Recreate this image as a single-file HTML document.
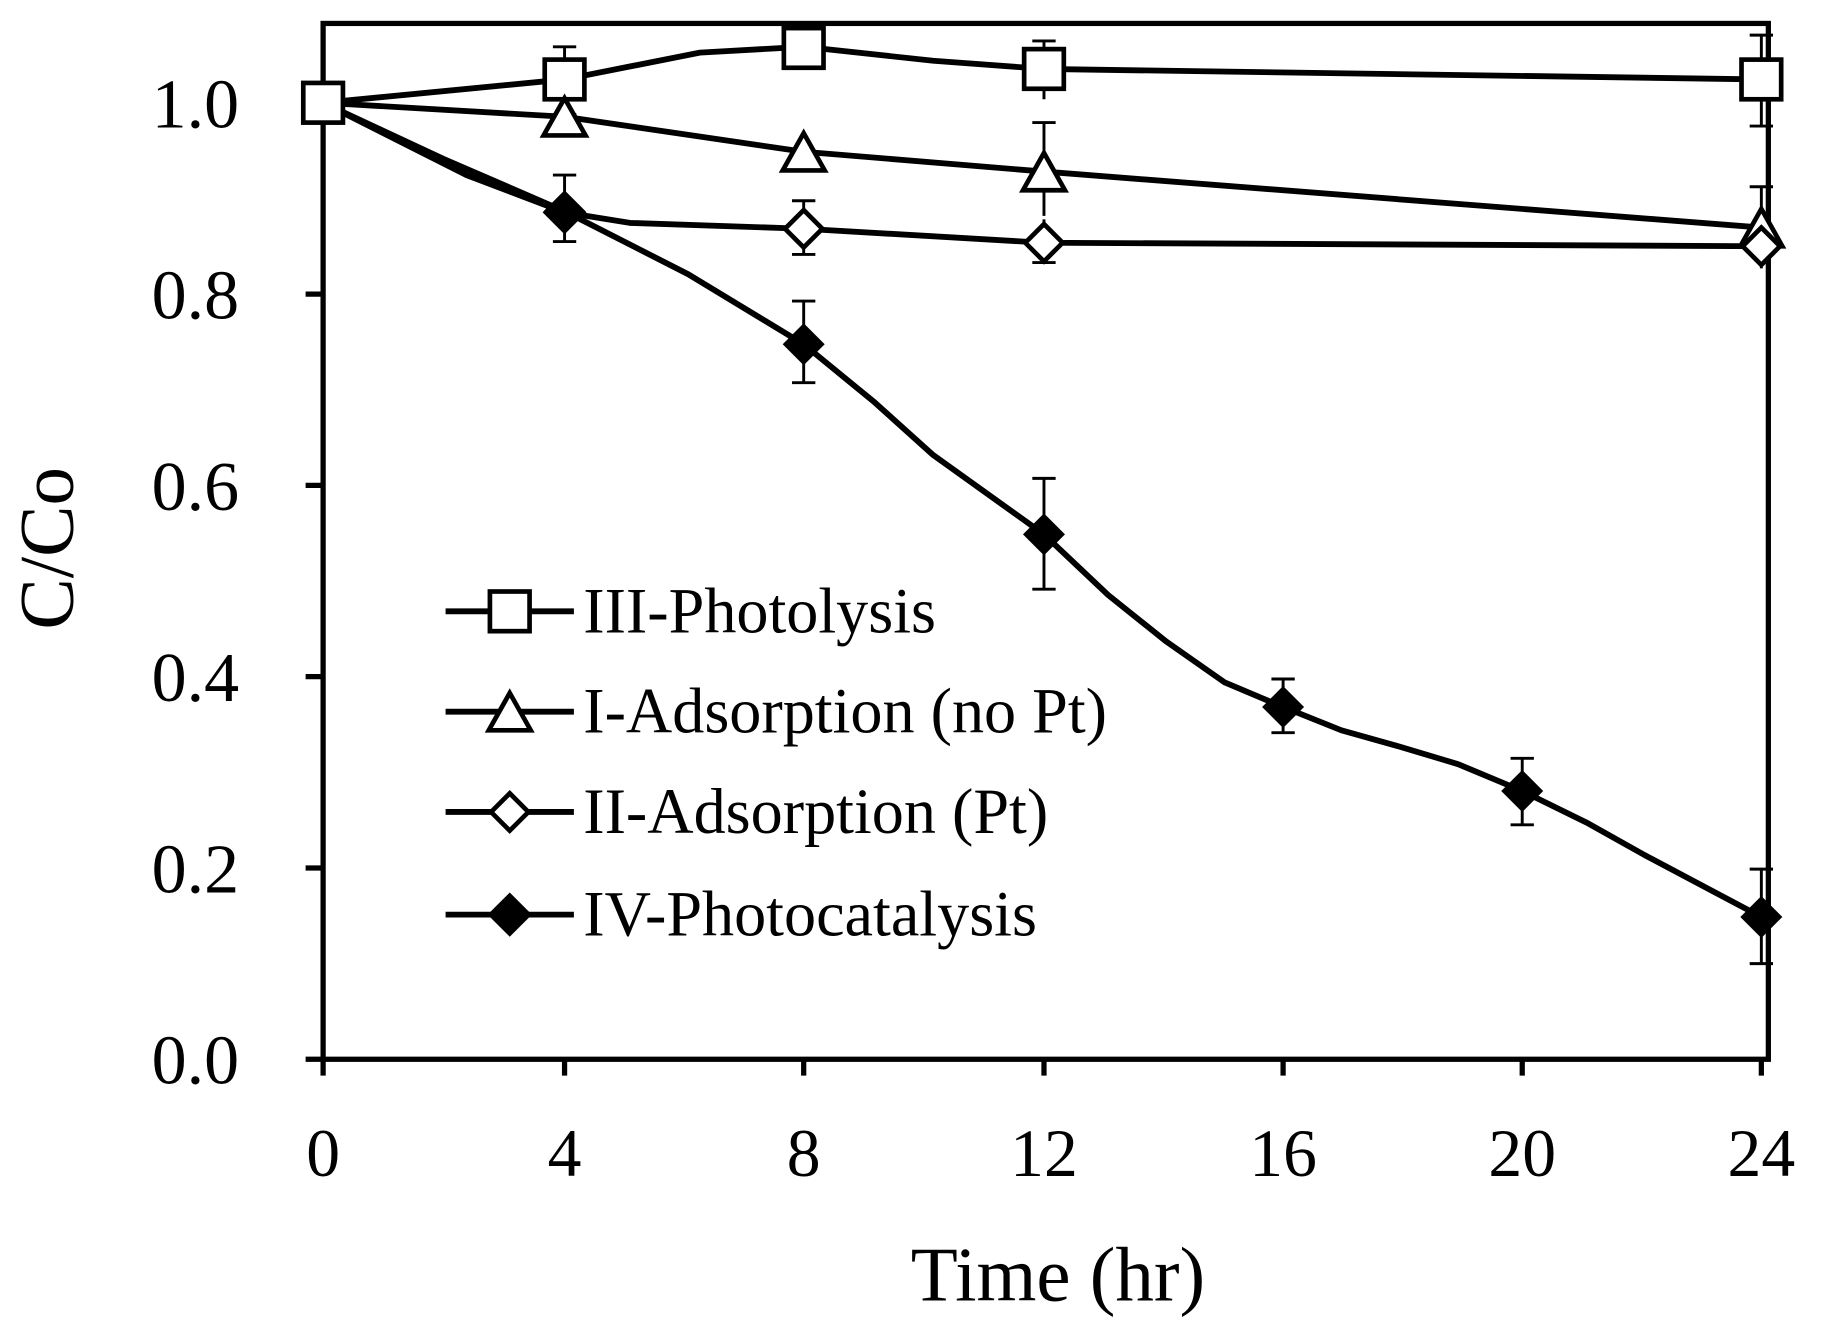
<!DOCTYPE html>
<html><head><style>html,body{margin:0;padding:0;background:#fff}svg{display:block}</style></head><body>
<svg width="1829" height="1344" viewBox="0 0 1568 1152" xmlns="http://www.w3.org/2000/svg" font-family="Liberation Serif, serif">
<rect width="1568" height="1152" fill="#fff"/>
<g stroke="#000" stroke-width="4.5" fill="none">
<rect x="277" y="20" width="1239" height="888"/>
<path d="M262 908H277M262 744H277M262 580H277M262 416H277M262 252H277M262 88H277"/>
<path d="M277 908V922M484 908V922M689 908V922M895 908V922M1100 908V922M1305 908V922M1510 908V922"/>
</g>
<g font-size="60" text-anchor="end" fill="#000">
<text x="205" y="929">0.0</text><text x="205" y="765">0.2</text><text x="205" y="601">0.4</text>
<text x="205" y="437">0.6</text><text x="205" y="273">0.8</text><text x="205" y="109">1.0</text>
</g>
<g font-size="58" text-anchor="middle" fill="#000">
<text x="277" y="1008">0</text><text x="484" y="1008">4</text><text x="689" y="1008">8</text>
<text x="895" y="1008">12</text><text x="1100" y="1008">16</text><text x="1305" y="1008">20</text><text x="1510" y="1008">24</text>
</g>
<text x="907" y="1115" font-size="66" text-anchor="middle">Time (hr)</text>
<text transform="translate(62,470) rotate(-90)" font-size="66" text-anchor="middle">C/Co</text>
<g stroke="#000" stroke-width="2.5" fill="none">
<path d="M484 40V98M474 40H494M474 98H494"/>
<path d="M895 35V85M885 35H905"/>
<path d="M1510 30V108M1500 30H1520M1500 108H1520"/>
<path d="M895 105V185M885 105H905"/>
<path d="M1510 160V230M1500 160H1520"/>
<path d="M484 150V207M474 150H494M474 207H494"/>
<path d="M689 172V218M679 172H699M679 218H699"/>
<path d="M895 188V225M885 225H905"/>
<path d="M689 258V328M679 258H699M679 328H699"/>
<path d="M895 410V505M885 410H905M885 505H905"/>
<path d="M1100 582V628M1090 582H1110M1090 628H1110"/>
<path d="M1305 650V707M1295 650H1315M1295 707H1315"/>
<path d="M1510 745V826M1500 745H1520M1500 826H1520"/>
</g>
<g stroke="#000" stroke-width="5" fill="none" stroke-linejoin="round">
<polyline points="277,88 484,68 600,45 689,40 800,52 895,59 1510,68"/>
<polyline points="277,88 484,100 689,130 895,147 1510,195"/>
<polyline points="277,88 400,150 484,182 540,191 689,196 895,208 1510,211"/>
<polyline points="277,88 380,136 484,181 590,235 689,295 750,345 800,390 895,458 950,510 1000,550 1050,585 1100,606 1150,626 1200,640 1250,655 1305,678 1360,705 1410,733 1510,786"/>
<path d="M382 524H492M382 610H492M382 696H492M382 784H492"/>
</g>
<g stroke="#000" stroke-width="4" fill="#fff">
<rect x="467" y="51" width="34" height="34"/><rect x="672" y="24" width="34" height="34"/>
<rect x="878" y="42" width="34" height="34"/><rect x="1493" y="51" width="34" height="34"/>
<rect x="420" y="507" width="34" height="34"/>
<path d="M484 84L502 116H466Z"/><path d="M689 114L707 146H671Z"/><path d="M895 131L913 163H877Z"/><path d="M1510 179L1528 211H1492Z"/>
<path d="M437 594L455 626H419Z"/>
<path d="M484 166L500 182L484 198L468 182Z"/><path d="M689 180L705 196L689 212L673 196Z"/><path d="M895 192L911 208L895 224L879 208Z"/><path d="M1510 195L1526 211L1510 227L1494 211Z"/>
<path d="M437 680L453 696L437 712L421 696Z"/>
</g>
<g fill="#000">
<path d="M484 163L502 181L484 199L466 181Z"/><path d="M689 277L707 295L689 313L671 295Z"/><path d="M895 440L913 458L895 476L877 458Z"/>
<path d="M1100 588L1118 606L1100 624L1082 606Z"/><path d="M1305 660L1323 678L1305 696L1287 678Z"/><path d="M1510 768L1528 786L1510 804L1492 786Z"/>
<path d="M437 765L456 784L437 803L418 784Z"/>
</g>
<rect x="260" y="71" width="34" height="34" fill="#fff" stroke="#000" stroke-width="4"/>
<g font-size="55" fill="#000">
<text x="500" y="542">III-Photolysis</text>
<text x="500" y="628">I-Adsorption (no Pt)</text>
<text x="500" y="714">II-Adsorption (Pt)</text>
<text x="500" y="802">IV-Photocatalysis</text>
</g>
</svg>
</body></html>
